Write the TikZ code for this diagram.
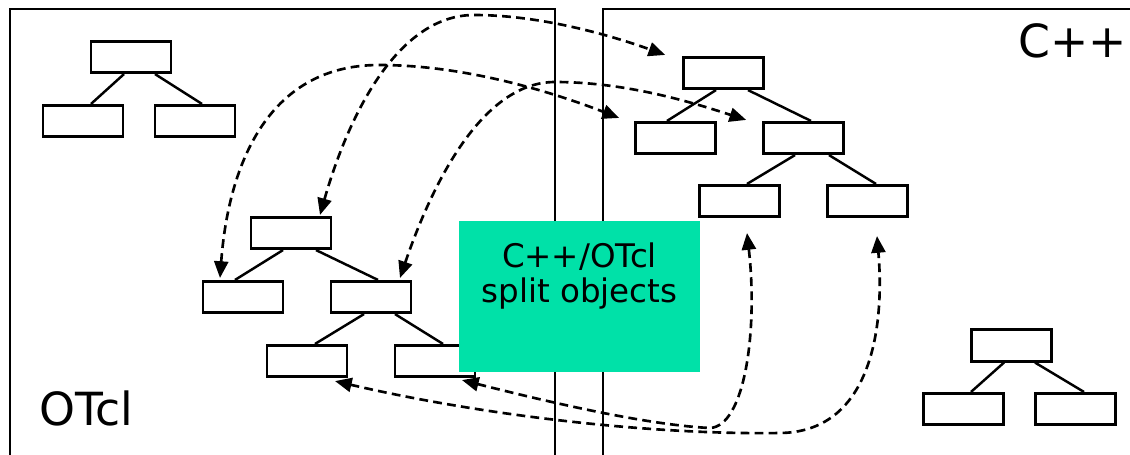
\documentclass[tikz,border=0pt]{standalone}
\usepackage{fontspec}
\setmainfont{DejaVu Sans}
\usetikzlibrary{arrows.meta,calc}
\definecolor{splitgreen}{RGB}{0,225,168}

\begin{document}
\begin{tikzpicture}[
        x=0.02cm, y=-0.02cm,
        obj/.style={rectangle, draw, line width=1.5pt, minimum width=1.6cm, minimum height=0.63cm, inner sep=0pt},
        tree/.style={line width=1.4pt},
        link/.style={line width=1.5pt, dash pattern=on 5pt off 3pt, {Triangle[length=9.5pt, width=8pt]}-{Triangle[length=9.5pt, width=8pt]}},
        lbl/.style={font=\fontsize{26}{31}\selectfont, inner sep=0pt},
    ]
        \useasboundingbox (0,0) rectangle (1130,454);
        \clip (0,0) rectangle (1130,454);

        % Panels (open at the bottom and right)
        \draw[line width=1.4pt] (10,9) rectangle (555,480);
        \draw[line width=1.4pt] (603,9) rectangle (1150,480);

        % OTcl: small tree top left
        \node[obj] (oa) at (131,57) {};
        \node[obj] (oa1) at (83,121) {};
        \node[obj] (oa2) at (195,121) {};
        \draw[tree] ($(oa.south)+(-7,0)$) -- ($(oa1.north)+(8,0)$);
        \draw[tree] ($(oa.south)+(24,0)$) -- ($(oa2.north)+(7,0)$);

        % OTcl: split tree
        \node[obj] (ob) at (291,233) {};
        \node[obj] (ob1) at (243,297) {};
        \node[obj] (ob2) at (371,297) {};
        \node[obj] (ob21) at (307,361) {};
        \node[obj] (ob22) at (435,361) {};
        \draw[tree] ($(ob.south)+(-8,0)$) -- ($(ob1.north)+(-8,0)$);
        \draw[tree] ($(ob.south)+(25,0)$) -- ($(ob2.north)+(7,0)$);
        \draw[tree] ($(ob2.south)+(-7,0)$) -- ($(ob21.north)+(8,0)$);
        \draw[tree] ($(ob2.south)+(24,0)$) -- ($(ob22.north)+(8,0)$);

        % C++: split tree
        \node[obj] (ca) at (723.5,73) {};
        \node[obj] (ca1) at (675.5,138) {};
        \node[obj] (ca2) at (803.5,138) {};
        \node[obj] (ca21) at (739.5,201) {};
        \node[obj] (ca22) at (867.5,201) {};
        \draw[tree] ($(ca.south)+(-7.5,0)$) -- ($(ca1.north)+(-8.5,0)$);
        \draw[tree] ($(ca.south)+(24.5,0)$) -- ($(ca2.north)+(7.5,0)$);
        \draw[tree] ($(ca2.south)+(-8.5,0)$) -- ($(ca21.north)+(7.5,0)$);
        \draw[tree] ($(ca2.south)+(25.5,0)$) -- ($(ca22.north)+(8.5,0)$);

        % C++: small tree bottom right
        \node[obj] (cb) at (1011.5,345.5) {};
        \node[obj] (cb1) at (963.5,409) {};
        \node[obj] (cb2) at (1075.5,409) {};
        \draw[tree] ($(cb.south)+(-7.5,0)$) -- ($(cb1.north)+(7.5,0)$);
        \draw[tree] ($(cb.south)+(23.5,0)$) -- ($(cb2.north)+(8.5,0)$);

        % split objects box
        \node[fill=splitgreen, minimum width=4.82cm, minimum height=3.02cm, inner sep=0pt] (split) at (579.5,296.5) {};
        \node[font=\fontsize{18.5}{20}\selectfont, align=center, inner sep=0pt, anchor=north] (splittxt) at (579.5,242) {C++/OTcl\\split objects};

        % links between the two halves
        \draw[link] ($(ob.north)+(29,-1)$) .. controls (350,110) and (400,15) .. (474,15)
            .. controls (540,15) and (610,35) .. ($(ca.north west)+(-17,-1)$);
        \draw[link] ($(ob1.north)+(-23,-2)$) .. controls (228,170) and (265,65) .. (379,65)
            .. controls (470,65) and (560,95) .. ($(ca1.north west)+(-15,-3)$);
        \draw[link] ($(ob2.north)+(29,-2)$) .. controls (430,190) and (480,82) .. (555,82)
            .. controls (630,82) and (700,105) .. ($(ca2.north west)+(-16,-1)$);
        \draw[link] ($(ob22.south)+(27,2)$) .. controls (560,405) and (650,425) .. (710,428)
            .. controls (745,426) and (758,330) .. ($(ca21.south)+(7.5,15)$);
        \draw[link] ($(ob21.south)+(28,3)$) .. controls (480,415) and (650,435) .. (780,433)
            .. controls (870,432) and (885,330) .. ($(ca22.south)+(9.5,18)$);

        % panel titles
        \node[lbl, anchor=base west] (cpp) at (1018,57) {C++};
        \node[lbl, anchor=base west] (otcl) at (39,425) {OTcl};
\end{tikzpicture}
\end{document}
